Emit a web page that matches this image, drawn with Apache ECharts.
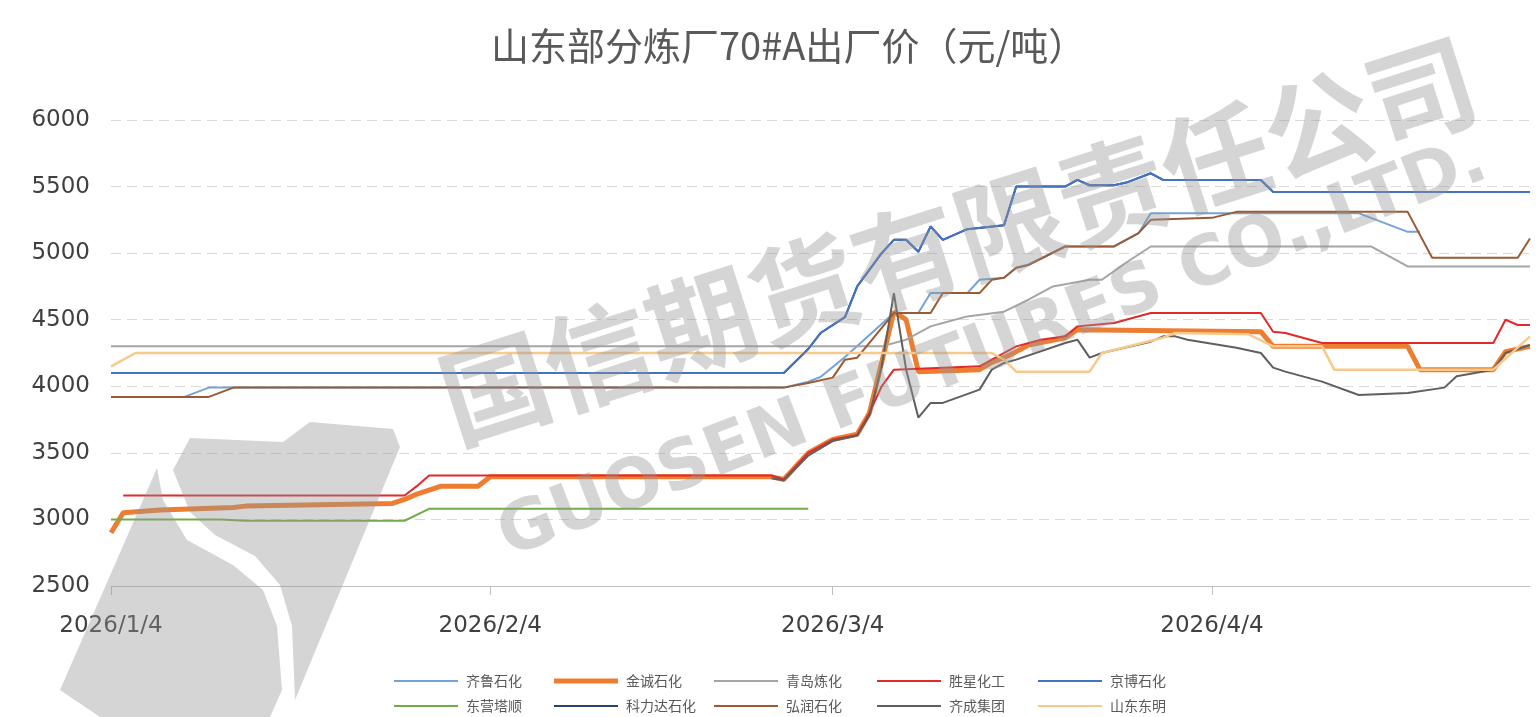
<!DOCTYPE html>
<html>
<head>
<meta charset="utf-8">
<title>山东部分炼厂70#A出厂价</title>
<script src="https://cdn.jsdelivr.net/npm/echarts@6/dist/echarts.min.js"></script>
<style>
    html, body { margin: 0; padding: 0; background: #fff; }
    #price { width: 1536px; height: 717px; }
</style>
</head>
<body>
<div id="price"></div>
<script>
// dates are 2026, written as month/day
var tickDates = ['1/4', '2/4', '3/4', '4/4'];
var yTicks = [2500, 3000, 3500, 4000, 4500, 5000, 5500, 6000];

var qiluPrice = [['1/4',3920],['1/10',3920],['1/12',3990],['2/28',3990],['3/2',4035],['3/3',4070],['3/5',4220],['3/9',4550],['3/11',4550],['3/12',4700],['3/15',4700],['3/16',4800],['3/18',4815],['3/19',4890],['3/20',4915],['3/23',5050],['3/27',5050],['3/29',5150],['3/30',5300],['4/16',5300],['4/17',5265],['4/20',5160],['4/21',5160]];
var jinchengPrice = [['1/4',2900],['1/5',3050],['1/8',3070],['1/14',3090],['1/15',3100],['1/27',3120],['1/28',3150],['1/29',3190],['1/31',3250],['2/3',3250],['2/4',3320],['2/27',3320],['2/28',3300],['3/2',3500],['3/4',3600],['3/6',3640],['3/7',3800],['3/9',4560],['3/10',4500],['3/11',4110],['3/16',4125],['3/17',4180],['3/18',4215],['3/19',4260],['3/20',4310],['3/23',4365],['3/24',4425],['4/8',4410],['4/9',4300],['4/20',4300],['4/21',4125],['4/27',4125],['4/28',4260],['4/30',4300]];
var qingdaoPrice = [['1/4',4300],['3/8',4300],['3/10',4350],['3/12',4450],['3/13',4475],['3/15',4525],['3/18',4560],['3/20',4650],['3/22',4750],['3/25',4800],['3/26',4800],['3/28',4930],['3/30',5050],['4/17',5050],['4/20',4900],['4/30',4900]];
var shengxingPrice = [['1/5',3180],['1/28',3180],['1/29',3250],['1/30',3330],['2/27',3330],['2/28',3300],['3/2',3500],['3/4',3600],['3/6',3635],['3/7',3800],['3/8',4000],['3/9',4125],['3/16',4150],['3/17',4200],['3/19',4300],['3/21',4350],['3/23',4375],['3/24',4450],['3/27',4475],['3/30',4550],['4/8',4550],['4/9',4410],['4/10',4400],['4/13',4325],['4/27',4325],['4/28',4500],['4/29',4460],['4/30',4460]];
var jingboPrice = [['1/4',4100],['2/28',4100],['3/2',4280],['3/3',4400],['3/5',4520],['3/6',4750],['3/8',5000],['3/9',5100],['3/10',5100],['3/11',5010],['3/12',5200],['3/13',5100],['3/15',5180],['3/18',5210],['3/19',5500],['3/23',5500],['3/24',5550],['3/25',5510],['3/27',5510],['3/28',5530],['3/30',5600],['3/31',5550],['4/8',5550],['4/9',5460],['4/30',5460]];
var dongyingPrice = [['1/4',3000],['1/13',3000],['1/15',2990],['1/28',2990],['1/30',3080],['3/2',3080]];
// 科力达 runs under 京博 in the picture
var keliPrice = [['1/4',4100],['2/28',4100],['3/2',4280],['3/3',4400],['3/5',4520],['3/6',4750],['3/8',5000],['3/9',5100],['3/10',5100],['3/11',5010],['3/12',5200],['3/13',5100],['3/15',5180],['3/18',5210],['3/19',5500],['3/23',5500],['3/24',5550],['3/25',5510],['3/27',5510],['3/28',5530],['3/30',5600],['3/31',5550],['4/8',5550],['4/9',5460],['4/30',5460]];
var hongrunPrice = [['1/4',3920],['1/12',3920],['1/14',3990],['2/28',3990],['3/2',4025],['3/4',4065],['3/5',4200],['3/6',4215],['3/9',4550],['3/12',4550],['3/13',4700],['3/16',4700],['3/17',4800],['3/18',4815],['3/19',4890],['3/20',4910],['3/23',5050],['3/27',5050],['3/29',5150],['3/30',5250],['4/4',5265],['4/6',5310],['4/20',5310],['4/22',4965],['4/29',4965],['4/30',5110]];
var qichengPrice = [['2/27',3310],['2/28',3295],['3/2',3480],['3/4',3590],['3/6',3630],['3/7',3780],['3/8',4150],['3/9',4700],['3/10',4125],['3/11',3765],['3/12',3875],['3/13',3875],['3/16',3975],['3/17',4125],['3/18',4175],['3/19',4200],['3/23',4325],['3/24',4350],['3/25',4215],['3/26',4250],['3/30',4335],['3/31',4375],['4/1',4375],['4/2',4350],['4/6',4290],['4/8',4250],['4/9',4140],['4/10',4110],['4/13',4035],['4/16',3935],['4/20',3950],['4/23',3990],['4/24',4075],['4/27',4125],['4/28',4250],['4/30',4310]];
var dongmingPrice = [['1/4',4150],['1/6',4250],['3/17',4250],['3/18',4200],['3/19',4110],['3/25',4110],['3/26',4250],['3/31',4365],['4/1',4400],['4/7',4390],['4/9',4300],['4/13',4300],['4/14',4125],['4/27',4125],['4/30',4375]];

function toTime(s) {
    var p = s.split('/');
    return new Date(2026, +p[0] - 1, +p[1]).getTime();
}
function toSeries(arr) {
    return arr.map(function (p) { return [toTime(p[0]), p[1]]; });
}

var seriesList = [
    { name: '齐鲁石化', color: '#74A3D8', data: qiluPrice, width: 2 },
    { name: '金诚石化', color: '#ED7D31', data: jinchengPrice, width: 5 },
    { name: '青岛炼化', color: '#A5A5A5', data: qingdaoPrice, width: 2 },
    { name: '胜星化工', color: '#E2292B', data: shengxingPrice, width: 2 },
    { name: '京博石化', color: '#4472C4', data: jingboPrice, width: 2, z: 3 },
    { name: '东营塔顺', color: '#70AD47', data: dongyingPrice, width: 2 },
    { name: '科力达石化', color: '#264478', data: keliPrice, width: 2, z: 1 },
    { name: '弘润石化', color: '#9C5A32', data: hongrunPrice, width: 2 },
    { name: '齐成集团', color: '#5F5F5F', data: qichengPrice, width: 2 },
    { name: '山东东明', color: '#F8C98C', data: dongmingPrice, width: 2.5 }
];

// Excel-style legend grid: 5 columns x 2 rows
var legendLeft = [389, 549, 709, 872, 1033];
var legendTop = [669, 694];

var dom = document.getElementById('price');
var myChart = echarts.init(dom);
var option = null;

var wmFill = 'rgba(150,150,150,0.40)';

option = {
    animation: false,
    backgroundColor: '#fff',
    title: {
        text: '山东部分炼厂70#A出厂价（元/吨）',
        left: 486,
        top: 22,
        textStyle: {
            fontFamily: 'Noto Sans CJK SC',
            fontSize: 38,
            fontWeight: 'normal',
            color: '#595959'
        }
    },
    legend: seriesList.map(function (s, i) {
        return {
            left: legendLeft[i % 5],
            top: legendTop[Math.floor(i / 5)],
            icon: 'rect',
            itemWidth: 64,
            itemHeight: s.width > 3 ? 5 : 2,
            itemGap: 0,
            data: [s.name],
            textStyle: { fontFamily: 'Noto Sans CJK SC', fontSize: 14, color: '#595959', padding: [0, 0, 0, 3] }
        };
    }),
    grid: { left: 111, right: 6, top: 120, bottom: 131 },
    xAxis: {
        type: 'value',
        min: toTime('1/4'),
        max: toTime('4/30'),
        axisLine: { lineStyle: { color: '#bfbfbf', width: 1 } },
        axisTick: {
            show: true,
            length: 9,
            customValues: tickDates.map(toTime),
            lineStyle: { color: '#bfbfbf' }
        },
        axisLabel: {
            customValues: tickDates.map(toTime),
            margin: 29,
            fontFamily: 'DejaVu Sans',
            fontSize: 23,
            color: '#404040',
            formatter: function (v) {
                var d = new Date(v);
                return d.getFullYear() + '/' + (d.getMonth() + 1) + '/' + d.getDate();
            }
        },
        splitLine: { show: false }
    },
    yAxis: {
        type: 'value',
        min: yTicks[0],
        max: yTicks[yTicks.length - 1],
        interval: 500,
        axisLine: { show: false },
        axisTick: { show: false },
        axisLabel: {
            margin: 21,
            fontFamily: 'DejaVu Sans',
            fontSize: 23,
            color: '#404040',
            formatter: function (v) { return String(v); }
        },
        splitLine: {
            lineStyle: { color: '#d9d9d9', type: [10, 6], width: 1 }
        }
    },
    series: seriesList.map(function (s) {
        return {
            name: s.name,
            type: 'line',
            symbol: 'none',
            z: s.z || 2,
            lineStyle: { color: s.color, width: s.width },
            itemStyle: { color: s.color },
            data: toSeries(s.data)
        };
    }),
    graphic: [
        {
            type: 'polygon', z: 100, silent: true,
            shape: { points: [[60,690],[157,468],[163,500],[187,540],[233,565],[263,590],[277,626],[282,690],[270,717],[100,717]] },
            style: { fill: wmFill }
        },
        {
            type: 'polygon', z: 100, silent: true,
            shape: { points: [[173,470],[190,438],[283,442],[310,422],[393,429],[400,447],[295,700],[292,626],[280,585],[255,556],[215,535],[190,512]] },
            style: { fill: wmFill }
        },
        {
            type: 'text', z: 100, silent: true,
            x: 958, y: 240, rotation: 0.31,
            style: {
                text: '国信期货有限责任公司',
                fontFamily: 'Noto Sans CJK SC', fontSize: 108, fontWeight: 'bold',
                fill: wmFill, textAlign: 'center', textVerticalAlign: 'middle'
            }
        },
        {
            type: 'text', z: 100, silent: true,
            x: 993, y: 350, rotation: 0.37,
            style: {
                text: 'GUOSEN FUTURES CO.,LTD.',
                fontFamily: 'DejaVu Sans', fontSize: 69, fontWeight: 'bold',
                fill: wmFill, textAlign: 'center', textVerticalAlign: 'middle'
            }
        }
    ]
};

if (option && typeof option === "object") {
    myChart.setOption(option, true);
}
</script>
</body>
</html>
